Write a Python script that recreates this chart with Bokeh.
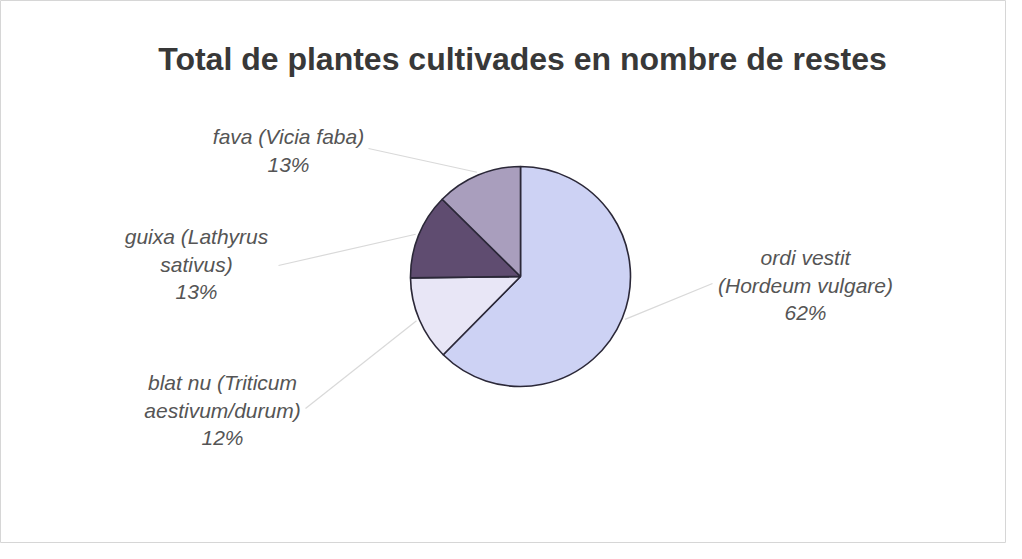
import math
from bokeh.plotting import figure
from bokeh.models import Range1d, Label, ColumnDataSource
from bokeh.core.properties import value
from bokeh.embed import file_html
from bokeh.resources import INLINE

# ---- data ----
names = ["ordi vestit\n(Hordeum vulgare)", "blat nu (Triticum\naestivum/durum)",
         "guixa (Lathyrus\nsativus)", "fava (Vicia faba)"]
shares = [62.4, 12.4, 12.6, 12.6]
colors = ["#cdd2f4", "#e8e6f6", "#5f4c70", "#a99ebd"]
title_text = "Total de plantes cultivades en nombre de restes"

# ---- layout (image coords, y measured downward; converted below) ----
W, H = 1006, 543
IMG_H = 559
def Y(yimg):
    return IMG_H - yimg

cx, cy, R = 520, Y(276), 110
label_anchor = [(805, 257), (222, 382), (196, 236), (288, 136)]  # first line centre
label_end = [(712, 283), (305, 408), (278, 265), (368, 148)]     # leader end near text
line_gap = 27.5

p = figure(width=W, height=H, output_backend="svg", toolbar_location=None,
           x_range=Range1d(0, W), y_range=Range1d(IMG_H - H, IMG_H),
           min_border=0)
p.axis.visible = False
p.grid.visible = False
p.background_fill_color = "white"
p.border_fill_color = "white"
p.outline_line_color = "#d6d6d6"
p.outline_line_width = 1

total = sum(shares)
cum = 0.0
starts, ends, mids = [], [], []
for s in shares:
    a0 = cum / total
    cum += s
    a1 = cum / total
    starts.append(math.pi / 2 - a0 * 2 * math.pi)
    ends.append(math.pi / 2 - a1 * 2 * math.pi)
    mids.append(math.pi / 2 - (a0 + a1) / 2 * 2 * math.pi)

# leader lines (from slice mid-angle at the rim to the label)
for m, (ex, ey) in zip(mids, label_end):
    sx = cx + (R + 3) * math.cos(m)
    sy = cy + (R + 3) * math.sin(m)
    p.line([sx, ex], [sy, Y(ey)], line_color="#d9d9d9", line_width=1.2)

src = ColumnDataSource(dict(x=[cx] * len(shares), y=[cy] * len(shares),
                            start=starts, end=ends, color=colors))
p.wedge(x="x", y="y", radius=R, start_angle="start", end_angle="end",
        direction="clock", fill_color="color", line_color="#2b2838",
        line_width=1.6, source=src)

# labels
for name, s, (ax, ay) in zip(names, shares, label_anchor):
    lines = name.split("\n") + [f"{round(s / total * 100)}%"]
    xs = [ax] * len(lines)
    ys = [Y(ay + i * line_gap) for i in range(len(lines))]
    p.text(x=xs, y=ys, text=lines, text_font=value("Liberation Sans"),
           text_font_style="italic", text_font_size="21px",
           text_color="#555555", text_align="center", text_baseline="middle")

p.add_layout(Label(x=522, y=Y(58), text=title_text, text_font="Liberation Sans",
                   text_font_style="bold", text_font_size="32px",
                   text_color="#383838", text_align="center",
                   text_baseline="middle"))

open("out.html", "w").write(file_html(p, INLINE))
